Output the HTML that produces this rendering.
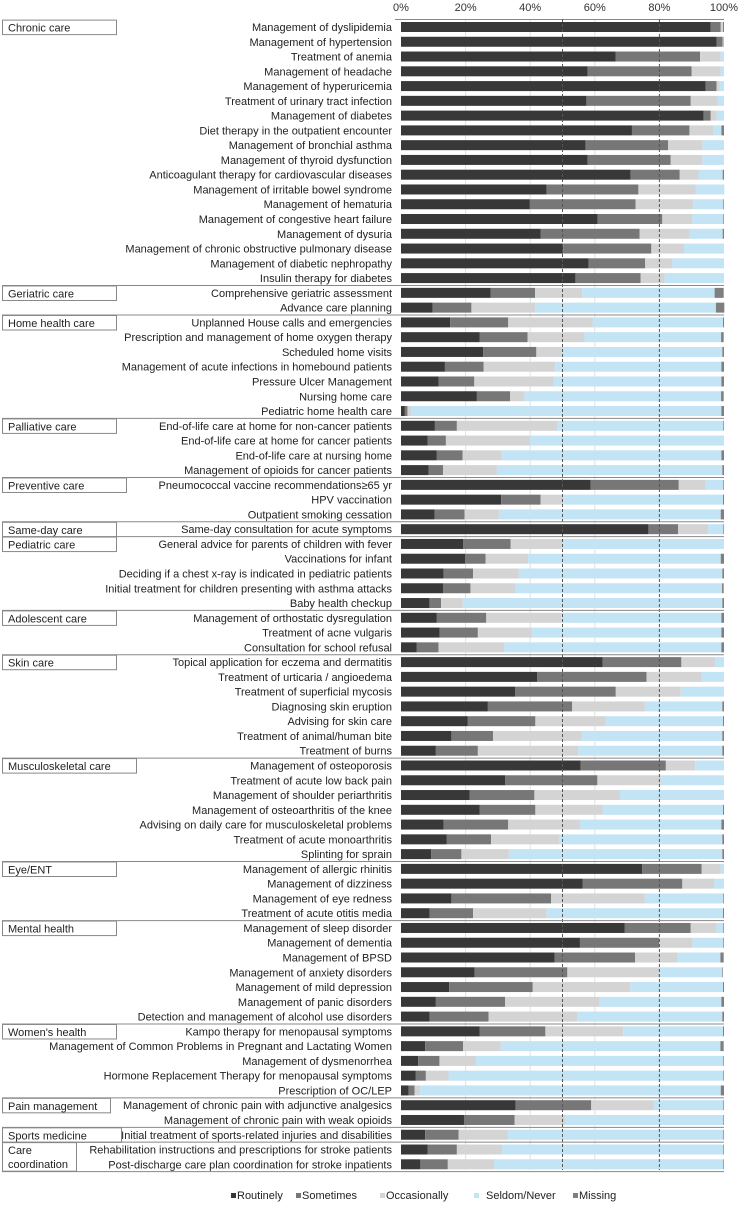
<!DOCTYPE html>
<html><head><meta charset="utf-8">
<style>
html,body{margin:0;padding:0;background:#fff;}
svg{display:block;font-family:"Liberation Sans",Arial,sans-serif;}
</style></head>
<body>
<svg id="chart" width="741" height="1205" viewBox="0 0 741 1205" xmlns="http://www.w3.org/2000/svg"></svg>
<script>
const rowLabels = ["Management of dyslipidemia","Management of hypertension","Treatment of anemia","Management of headache","Management of hyperuricemia","Treatment of urinary tract infection","Management of diabetes","Diet therapy in the outpatient encounter","Management of bronchial asthma","Management of thyroid dysfunction","Anticoagulant therapy for cardiovascular diseases","Management of irritable bowel syndrome","Management of hematuria","Management of congestive heart failure","Management of dysuria","Management of chronic obstructive pulmonary disease","Management of diabetic nephropathy","Insulin therapy for diabetes",
"Comprehensive geriatric assessment","Advance care planning",
"Unplanned House calls and emergencies","Prescription and management of home oxygen therapy","Scheduled home visits","Management of acute infections in homebound patients","Pressure Ulcer Management","Nursing home care","Pediatric home health care",
"End-of-life care at home for non-cancer patients","End-of-life care at home for cancer patients","End-of-life care at nursing home","Management of opioids for cancer patients",
"Pneumococcal vaccine recommendations\u226565 yr","HPV vaccination","Outpatient smoking cessation",
"Same-day consultation for acute symptoms",
"General advice for parents of children with fever","Vaccinations for infant","Deciding if a chest x-ray is indicated in pediatric patients","Initial treatment for children presenting with asthma attacks","Baby health checkup",
"Management of orthostatic dysregulation","Treatment of acne vulgaris","Consultation for school refusal",
"Topical application for eczema and dermatitis","Treatment of urticaria / angioedema","Treatment of superficial mycosis","Diagnosing skin eruption","Advising for skin care","Treatment of animal/human bite","Treatment of burns",
"Management of osteoporosis","Treatment of acute low back pain","Management of shoulder periarthritis","Management of osteoarthritis of the knee","Advising on daily care for musculoskeletal problems","Treatment of acute monoarthritis","Splinting for sprain",
"Management of allergic rhinitis","Management of dizziness","Management of eye redness","Treatment of acute otitis media",
"Management of sleep disorder","Management of dementia","Management of BPSD","Management of anxiety disorders","Management of mild depression","Management of panic disorders","Detection and management of alcohol use disorders",
"Kampo therapy for menopausal symptoms","Management of Common Problems in Pregnant and Lactating Women","Management of dysmenorrhea","Hormone Replacement Therapy for menopausal symptoms","Prescription of OC/LEP",
"Management of chronic pain with adjunctive analgesics","Management of chronic pain with weak opioids",
"Initial treatment of sports-related injuries and disabilities",
"Rehabilitation instructions and prescriptions for stroke patients","Post-discharge care plan coordination for stroke inpatients"];
const groupNames = ["Chronic care","Geriatric care","Home health care","Palliative care","Preventive care","Same-day care","Pediatric care","Adolescent care","Skin care","Musculoskeletal care","Eye/ENT","Mental health","Women's health","Pain management","Sports medicine","Care coordination"];
const groupCounts = [18,2,7,4,3,1,5,3,7,7,4,7,5,2,1,2];
const routinely = [95.9,97.7,66.5,57.8,94.3,57.4,93.7,71.5,57.1,57.8,71.1,45.1,39.9,60.9,43.2,50.2,58.1,54.0,27.7,9.8,15.2,24.3,25.4,13.6,11.6,23.5,1.2,10.5,8.2,11.1,8.6,58.7,31.0,10.4,76.6,19.2,19.9,13.2,13.0,8.8,11.1,12.0,4.9,62.4,42.2,35.3,26.9,20.7,15.6,10.8,55.6,32.3,21.2,24.3,13.2,14.2,9.3,74.7,56.2,15.6,8.9,69.3,55.4,47.6,22.8,14.9,10.8,8.9,24.3,7.5,5.3,4.6,2.4,35.5,19.5,7.5,8.2,6.0];
const sometimes = [3.1,1.9,26.1,32.2,3.4,32.3,2.2,17.8,25.6,25.7,15.2,28.4,32.7,20.0,30.7,27.3,17.5,20.2,13.8,12.0,18.0,14.9,16.5,12.0,11.1,10.3,0.8,6.8,5.7,8.0,4.4,27.3,12.2,9.3,9.2,14.7,6.3,9.1,8.5,3.6,15.3,11.8,6.7,24.4,33.8,31.2,26.1,20.9,12.9,13.0,26.4,28.5,20.1,17.3,20.0,13.7,9.4,18.4,30.9,30.9,13.4,20.4,24.5,24.9,28.7,25.9,21.4,18.2,20.4,11.7,6.6,3.1,1.8,23.4,15.7,10.3,9.1,8.5];
const occasionally = [0.7,0.3,6.4,8.9,0.9,8.3,1.8,7.4,10.6,9.8,5.8,17.8,17.9,9.3,15.4,10.1,8.4,7.4,14.6,19.8,26.1,17.6,7.8,22.1,24.5,4.4,1.2,31.0,26.1,12.1,16.7,8.3,7.0,10.6,9.3,16.0,13.2,14.2,14.0,6.7,23.2,16.6,20.4,10.4,17.1,20.1,22.5,21.8,27.4,31.1,9.1,19.6,26.5,20.8,22.2,21.0,14.7,5.8,9.9,29.0,22.8,8.0,10.3,13.2,28.4,30.2,29.3,27.4,24.1,11.7,11.3,7.0,1.7,19.3,15.8,15.3,14.0,14.3];
const seldom = [0.0,0.0,1.0,1.1,1.4,2.0,2.3,2.5,6.7,6.7,7.5,8.8,9.3,9.6,10.3,12.4,16.0,18.4,41.0,55.9,40.4,42.3,49.8,51.5,52.0,60.9,96.0,51.5,60.0,68.0,69.8,5.5,49.5,68.7,4.7,50.1,59.6,63.0,63.9,80.4,49.6,58.8,67.2,2.8,6.9,13.4,24.0,36.3,43.6,44.6,8.9,19.6,32.2,37.3,43.8,50.6,66.1,1.1,3.0,24.3,54.6,2.1,9.6,13.2,19.6,28.7,37.7,45.0,30.9,68.0,76.6,85.1,93.1,21.6,48.8,66.7,68.5,71.0];
const missing = [0.3,0.1,0,0,0,0,0,0.8,0,0,0.4,0,0.2,0.2,0.4,0,0,0,2.8,2.6,0.3,0.8,0.5,0.8,0.8,0.8,0.8,0.2,0,0.8,0.5,0.2,0.3,1.0,0.2,0,1.0,0.5,0.5,0.5,0.8,0.8,0.8,0,0,0,0.5,0.3,0.5,0.5,0,0,0,0.3,0.8,0.5,0.5,0,0,0.2,0.3,0.2,0.2,1.0,0.2,0.3,0.8,0.5,0.3,1.0,0.2,0.2,1.0,0.2,0.2,0.2,0.2,0.2];
const seriesNames = ["Routinely","Sometimes","Occasionally","Seldom/Never","Missing"];
const tickValues = [0,20,40,60,80,100];
const tickLabels = ["0%","20%","40%","60%","80%","100%"];
const refLines = [50,80];

const NS="http://www.w3.org/2000/svg";
const svg=document.getElementById('chart');
const X0=401, X1=724, Y0=27, STEP=14.77, BH=10;
const colors=["#383838","#777777","#d4d4d4","#c2e4f5","#7f7f7f"];
const series=[routinely,sometimes,occasionally,seldom,missing];
function xs(v){return X0+(X1-X0)*v/100;}
function ys(i){return Y0+i*STEP;}
function mk(tag,attrs,parent){const e=document.createElementNS(NS,tag);for(const k in attrs)e.setAttribute(k,attrs[k]);(parent||svg).appendChild(e);return e;}

tickValues.forEach((t,i)=>{
  if(t>0&&t<100&&refLines.indexOf(t)<0){
    const g=mk('line',{x1:xs(t),x2:xs(t),y1:19,y2:1170,stroke:'#e2e2e2','stroke-width':1});
    
    
  }
  const tl=mk('text',{x:xs(t),y:11,'font-size':11,'text-anchor':'middle',fill:'#333'});
  tl.textContent=tickLabels[i];
  
  
});
const ax=mk('line',{x1:395,x2:X1,y1:19.5,y2:19.5,stroke:'#888','stroke-width':1});



for(let i=0;i<rowLabels.length;i++){
  let acc=0;
  const y=ys(i);
  for(let s=0;s<series.length;s++){
    const v=series[s][i];
    if(v>0){
      const r=mk('rect',{x:xs(acc),y:y-BH/2,width:Math.max(0,xs(acc+v)-xs(acc)),height:BH,fill:colors[s]});
      
      
    }
    acc+=v;
  }
  const t=mk('text',{x:392,y:y+4,'font-size':11,'text-anchor':'end',fill:'#222'});
  t.textContent=rowLabels[i];
  
  
}

refLines.forEach(v=>{
  const l=mk('line',{x1:xs(v),x2:xs(v),y1:19,y2:1170,stroke:'#555','stroke-width':1,'stroke-dasharray':'3,2'});
  
  
});

const boxW={"Preventive care":124,"Pain management":108,"Musculoskeletal care":134,"Sports medicine":119,"Care coordination":74,"Home health care":114};
let start=0;
groupNames.forEach((g,gi)=>{
  const n=groupCounts[gi];
  const top=ys(start)-STEP/2, bot=ys(start+n-1)+STEP/2;
  if(gi>0){
    const l=mk('line',{x1:2,x2:X1,y1:top,y2:top,stroke:'#888','stroke-width':1});
    
    
  }
  const w=boxW[g]||114;
  const h=(g==="Care coordination")?(bot-top):15.5;
  const b=mk('rect',{x:2.5,y:top+0.5,width:w,height:h-1,fill:'#fff',stroke:'#888','stroke-width':1});
  
  
  if(g==="Care coordination"){
    const t1=mk('text',{x:8,y:top+12,'font-size':11,fill:'#222'});t1.textContent="Care";
    
    
    const t2=mk('text',{x:8,y:top+26,'font-size':11,fill:'#222'});t2.textContent="coordination";
    
    
  } else {
    const t=mk('text',{x:8,y:top+12,'font-size':11,fill:'#222'});t.textContent=g;
    
    
  }
  start+=n;
});
const bl=mk('line',{x1:2,x2:X1,y1:ys(rowLabels.length-1)+STEP/2,y2:ys(rowLabels.length-1)+STEP/2,stroke:'#888','stroke-width':1});



const legX=[231,296,380,474,573];
seriesNames.forEach((s,i)=>{
  const sq=mk('rect',{x:legX[i],y:1193,width:5,height:5,fill:colors[i]});
  
  
  const t=mk('text',{x:legX[i]+(i===3?12:6),y:1199,'font-size':11,fill:'#222'});
  t.textContent=s;
  
  
});
</script>
</body></html>
